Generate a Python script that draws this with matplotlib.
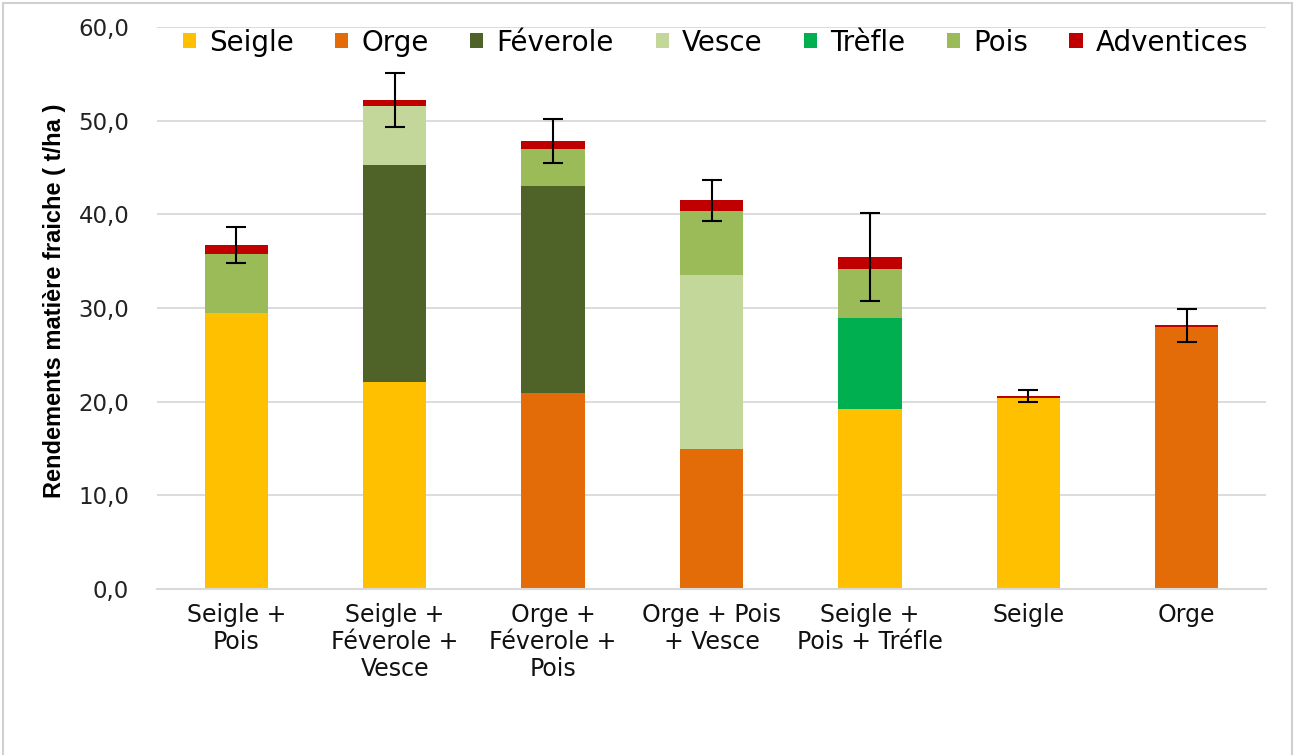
import matplotlib
matplotlib.use("Agg")
import matplotlib.pyplot as plt
import numpy as np
from matplotlib.patches import Rectangle

plt.rcParams['font.family'] = ['DejaVu Sans']

categories = ["Seigle +\nPois", "Seigle +\nFéverole +\nVesce", "Orge +\nFéverole +\nPois",
              "Orge + Pois\n+ Vesce", "Seigle +\nPois + Tréfle", "Seigle", "Orge"]
series_names = ["Seigle", "Orge", "Féverole", "Vesce", "Trèfle", "Pois", "Adventices"]
seigle     = [29.5, 22.1, 0.0, 0.0, 19.25, 20.4, 0.0]
orge       = [0.0, 0.0, 20.9, 14.95, 0.0, 0.0, 28.0]
feverole   = [0.0, 23.15, 22.1, 0.0, 0.0, 0.0, 0.0]
vesce      = [0.0, 6.3, 0.0, 18.6, 0.0, 0.0, 0.0]
trefle     = [0.0, 0.0, 0.0, 0.0, 9.65, 0.0, 0.0]
pois       = [6.3, 0.0, 4.0, 6.85, 5.3, 0.0, 0.0]
adventices = [0.95, 0.65, 0.85, 1.1, 1.2, 0.2, 0.15]
errors     = [1.9, 2.9, 2.35, 2.2, 4.7, 0.65, 1.75]
yticks = [0, 10, 20, 30, 40, 50, 60]

colors = ["#FFC000", "#E36C09", "#4F6228", "#C4D79B", "#00B050", "#9BBB59", "#C00000"]

fig = plt.figure(figsize=(12.96, 7.55), dpi=100)
ax = fig.add_axes([157/1296, 1 - 589/755, (1266-157)/1296, (589-27)/755])

x = np.arange(len(categories))
bottom = np.zeros(len(categories))
data = [seigle, orge, feverole, vesce, trefle, pois, adventices]
for name, vals, c in zip(series_names, data, colors):
    v = np.array(vals)
    ax.bar(x, v, bottom=bottom, width=0.4, color=c, label=name, zorder=3)
    bottom += v

ax.errorbar(x, bottom, yerr=errors, fmt='none', ecolor='black', elinewidth=1.5,
            capsize=7, capthick=1.5, zorder=4)

ax.set_xlim(-0.5, len(categories) - 0.5)
ax.set_ylim(0, 60)
ax.set_yticks(yticks)
ax.set_yticklabels([f"{t},0" for t in yticks], fontsize=16.5, color='#222222')
ax.set_xticks(x)
ax.set_xticklabels(categories, fontsize=17, color='#111111', linespacing=1.17)
ax.tick_params(axis='x', length=0, pad=10)
ax.tick_params(axis='y', length=0, pad=20)
ax.grid(axis='y', color='#D9D9D9', linewidth=1.3, zorder=0)
for s in ['top', 'right', 'left']:
    ax.spines[s].set_visible(False)
ax.spines['bottom'].set_color('#D9D9D9')
ax.spines['bottom'].set_linewidth(1.5)
ax.spines['bottom'].set_zorder(5)

ax.set_ylabel("Rendements matière fraiche ( t/ha )", fontsize=17, fontweight='bold',
              family=['Liberation Sans', 'DejaVu Sans'])
ax.yaxis.set_label_coords(-0.082, 0.512)

leg = ax.legend(loc='center', bbox_to_anchor=(0.5035, 0.972), ncol=7, frameon=False,
                fontsize=20, handlelength=0.47, handleheight=0.47, handletextpad=0.47,
                columnspacing=1.5, borderaxespad=0.0, borderpad=0.0)

fig.patches.append(Rectangle((3/1296, -0.01), (1292-3)/1296, 1.01 - 3/755, transform=fig.transFigure,
                             fill=False, edgecolor='#D0D0D0', linewidth=1.5))

fig.savefig("out.png", dpi=100)
